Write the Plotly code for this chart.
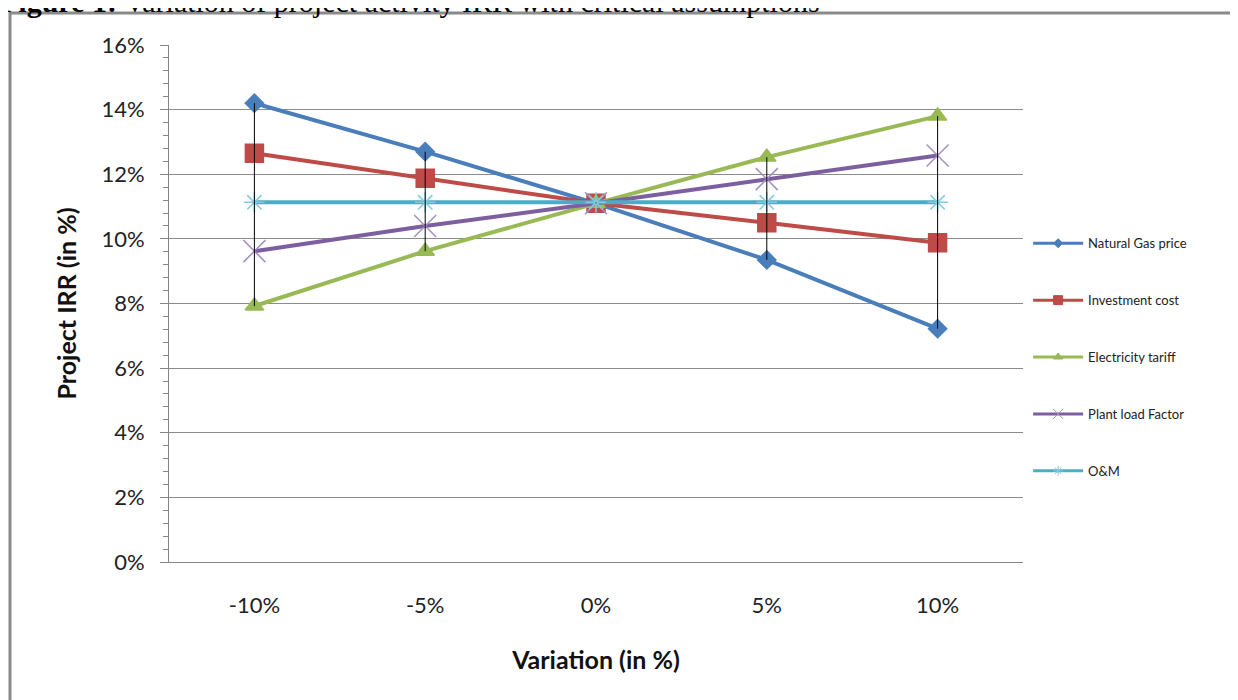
import plotly.graph_objects as go

categories = ["-10%", "-5%", "0%", "5%", "10%"]
natural_gas = [0.142, 0.127, 0.111, 0.0935, 0.0722]
investment = [0.1265, 0.1188, 0.111, 0.105, 0.0988]
electricity = [0.0792, 0.0962, 0.111, 0.1253, 0.138]
plant_load = [0.0962, 0.104, 0.111, 0.1185, 0.1258]
om = [0.1113, 0.1113, 0.1113, 0.1113, 0.1113]

series = [
    ("Natural Gas price", natural_gas, "#4A7EBB", "diamond", 14, None, 7),
    ("Investment cost", investment, "#BE4B48", "square", 18, None, 9),
    ("Electricity tariff", electricity, "#98B954", "triangle-up", 16, None, 8),
    ("Plant load Factor", plant_load, "#7D5FA0", "x-thin-open", 22, "#A38FC2", 10),
    ("O&M", om, "#4BACC6", "asterisk-open", 17, "#7FCCE0", 8),
]

fig = go.Figure()
for i, (name, vals, color, sym, size, mcol, lsize) in enumerate(series):
    fig.add_trace(go.Scatter(
        x=categories, y=vals, name=name, mode="lines+markers",
        line=dict(color=color, width=4),
        marker=dict(symbol=sym, size=size, color=mcol or color,
                    line=dict(width=1.5, color=mcol or color)),
        legendgroup=name, showlegend=False,
    ))
    # legend entry with smaller marker, as in the reference legend
    fig.add_trace(go.Scatter(
        x=[None], y=[None], name=name, mode="lines+markers",
        line=dict(color=color, width=3),
        marker=dict(symbol=sym, size=lsize, color=mcol or color,
                    line=dict(width=1, color=mcol or color)),
        legendgroup=name, showlegend=True, hoverinfo="skip",
    ))

# high-low lines computed from the data
hx, hy = [], []
all_series = [natural_gas, investment, electricity, plant_load, om]
for j, c in enumerate(categories):
    col = [s[j] for s in all_series]
    hx += [c, c, None]
    hy += [max(col), min(col), None]
fig.add_trace(go.Scatter(x=hx, y=hy, mode="lines", line=dict(color="black", width=1),
                         showlegend=False, hoverinfo="skip"))

# screen plot area: x 169..1023, y 45..562 (page body adds 8px offset)
fig.update_layout(
    width=1238, height=700,
    margin=dict(l=161, r=223, t=37, b=146),
    paper_bgcolor="white", plot_bgcolor="white",
    font=dict(family="Lato, 'Open Sans', sans-serif", color="#222"),
    showlegend=True,
    legend=dict(x=1.006, y=0.6455, xanchor="left", yanchor="top",
                font=dict(size=13, color="#222"),
                tracegroupgap=37, traceorder="grouped", itemwidth=50,
                bgcolor="rgba(0,0,0,0)"),
    xaxis=dict(type="category", range=[-0.5, 4.5], showgrid=False,
               showline=True, linecolor="#868686", linewidth=1,
               ticks="", tickfont=dict(size=22, color="#222"),
               ticklabelstandoff=24,
               title=dict(text="<b>Variation (in %)</b>", font=dict(size=25, color="#111"),
                          standoff=34)),
    yaxis=dict(range=[0, 0.16], dtick=0.02, tickformat=".0%",
               showgrid=True, gridcolor="#8c8c8c", gridwidth=1,
               showline=True, linecolor="#868686", linewidth=1,
               ticks="outside", ticklen=8, tickcolor="#868686",
               tickfont=dict(size=22, color="#222"), ticklabelstandoff=11,
               minor=dict(dtick=0.004, ticks="outside", ticklen=5, tickcolor="#868686", showgrid=False),
               zeroline=False,
               title=dict(text="<b>Project IRR (in %)</b>", font=dict(size=25, color="#111"),
                          standoff=17)),
)

# document frame
fig.add_shape(type="rect", xref="paper", yref="paper",
              x0=(10 - 169) / 854, x1=(1260 - 169) / 854,
              y0=(562 - 720) / 517, y1=(562 - 13) / 517,
              line=dict(color="#8a8a8a", width=3), layer="below")

# caption (cut off at top)
fig.add_annotation(xref="paper", yref="paper", x=(-2 - 169) / 854, y=(562 - 20) / 517,
                   xanchor="left", yanchor="bottom", showarrow=False,
                   text="<b>Figure 1:</b> Variation of project activity IRR with critical assumptions",
                   font=dict(family="Liberation Serif, Times New Roman, serif", size=30, color="black"))

fig.write_html("out.html")
